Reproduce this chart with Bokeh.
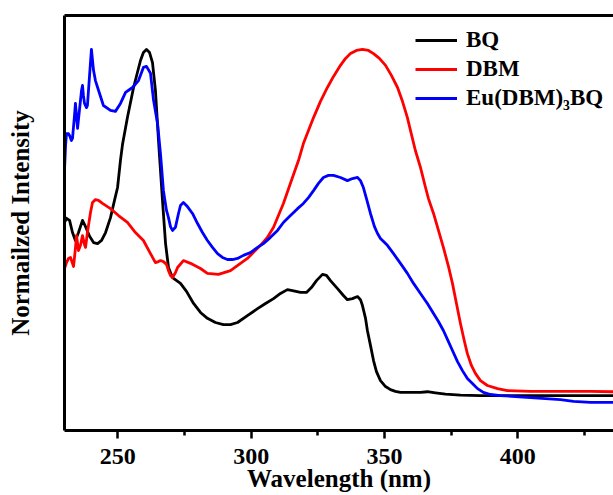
from bokeh.plotting import figure
from bokeh.models import Range1d, LinearAxis, FixedTicker, Legend, LegendItem, ColumnDataSource
from bokeh.embed import file_html
from bokeh.resources import INLINE

# ---------------- data ----------------
bq_nm = [230.0, 230.75, 231.9, 233.0, 234.1, 235.25, 236.75, 237.9, 239.4, 240.9, 242.4, 243.9,
         245.4, 247.25, 248.75, 249.9, 251.0, 251.75, 253.6, 255.9, 258.5, 259.6, 260.75, 261.9,
         263.0, 264.1, 265.25, 266.0, 266.75, 267.9, 269.0, 270.5, 273.5, 275.75, 278.4, 281.0,
         283.6, 286.6, 289.6, 292.25, 294.9, 298.6, 302.4, 305.4, 308.4, 311.0, 313.6, 315.5,
         318.5, 320.75, 322.6, 324.5, 326.75, 328.25, 329.75, 332.4, 334.6, 336.1, 338.0, 339.9,
         341.0, 341.75, 342.9, 343.6, 344.75, 345.9, 347.0, 348.5, 350.4, 352.25, 354.1, 356.0,
         359.75, 363.5, 366.1, 369.1, 372.9, 378.5, 386.0, 401.0, 416.0, 435.9]
bq_int = [0.500, 0.512, 0.506, 0.471, 0.448, 0.471, 0.506, 0.488, 0.460, 0.442, 0.439, 0.448,
          0.471, 0.514, 0.564, 0.601, 0.680, 0.725, 0.803, 0.890, 0.968, 0.991, 1.000, 0.991,
          0.962, 0.882, 0.737, 0.650, 0.564, 0.439, 0.370, 0.341, 0.324, 0.301, 0.266, 0.240,
          0.223, 0.211, 0.205, 0.205, 0.211, 0.231, 0.251, 0.266, 0.280, 0.295, 0.306, 0.303,
          0.298, 0.298, 0.312, 0.332, 0.350, 0.347, 0.332, 0.309, 0.289, 0.277, 0.280, 0.286,
          0.277, 0.260, 0.223, 0.188, 0.145, 0.101, 0.069, 0.043, 0.026, 0.017, 0.012, 0.009,
          0.009, 0.009, 0.011, 0.008, 0.004, 0.001, 0.0, 0.0, 0.0, 0.0]

dbm_nm = [230.0, 230.75, 231.5, 232.25, 233.0, 233.4, 234.1, 234.5, 235.25, 236.0, 236.75, 237.5,
          237.9, 238.6, 239.75, 240.5, 241.6, 242.75, 244.25, 247.25, 250.25, 253.6, 256.6, 259.6,
          262.25, 264.1, 265.25, 266.0, 267.1, 268.25, 269.0, 269.75, 270.5, 271.6, 272.4, 274.6,
          277.25, 281.0, 283.6, 287.75, 292.25, 296.0, 298.6, 303.5, 306.1, 308.4, 312.1, 315.5,
          317.75, 319.6, 323.4, 326.0, 328.6, 330.9, 333.5, 335.4, 337.25, 339.5, 341.75, 344.0,
          345.9, 348.1, 350.4, 352.6, 354.9, 356.75, 358.6, 359.75, 361.6, 363.5, 365.4, 366.5,
          368.4, 370.25, 372.1, 374.0, 375.5, 377.0, 378.5, 380.0, 381.1, 382.6, 384.1, 386.0,
          388.6, 392.4, 396.1, 404.75, 416.0, 427.25, 435.9]
dbm_int = [0.367, 0.384, 0.396, 0.399, 0.382, 0.373, 0.425, 0.462, 0.419, 0.434, 0.462, 0.436,
           0.428, 0.471, 0.529, 0.558, 0.566, 0.564, 0.555, 0.540, 0.520, 0.500, 0.471, 0.448,
           0.410, 0.384, 0.387, 0.390, 0.387, 0.379, 0.361, 0.347, 0.341, 0.355, 0.370, 0.390,
           0.382, 0.367, 0.353, 0.350, 0.361, 0.382, 0.396, 0.434, 0.457, 0.486, 0.555, 0.630,
           0.679, 0.728, 0.803, 0.850, 0.890, 0.922, 0.954, 0.974, 0.988, 0.997, 1.000, 0.997,
           0.988, 0.974, 0.954, 0.925, 0.890, 0.850, 0.803, 0.766, 0.708, 0.659, 0.601, 0.569,
           0.526, 0.477, 0.428, 0.373, 0.324, 0.266, 0.208, 0.156, 0.121, 0.087, 0.064, 0.043,
           0.029, 0.020, 0.014, 0.012, 0.012, 0.012, 0.011]

eu_nm = [230.0, 230.4, 230.75, 231.5, 231.9, 232.6, 233.0, 233.75, 234.1, 234.5, 234.9, 235.6,
         236.4, 236.75, 237.1, 237.5, 238.25, 238.6, 239.4, 240.1, 240.9, 241.6, 242.75, 244.6,
         247.25, 249.1, 251.0, 252.9, 255.5, 257.75, 259.6, 260.75, 262.25, 263.4, 264.9, 266.0,
         267.1, 268.25, 269.0, 269.75, 270.5, 271.6, 272.75, 273.5, 274.6, 276.1, 278.0, 279.9,
         281.75, 283.6, 285.5, 287.4, 289.25, 291.1, 293.0, 294.9, 297.1, 299.75, 302.4, 304.6,
         307.25, 309.9, 312.1, 314.75, 317.4, 319.6, 321.5, 323.4, 325.25, 327.1, 329.0, 330.9,
         333.5, 336.1, 338.0, 339.9, 341.0, 342.1, 343.25, 344.75, 346.25, 347.4, 348.5, 351.1,
         353.4, 356.0, 358.6, 360.9, 363.5, 366.1, 368.4, 370.25, 372.1, 374.0, 375.5, 377.4,
         379.25, 381.1, 383.0, 384.9, 387.1, 389.75, 393.5, 399.1, 404.75, 410.4, 416.0, 420.9,
         427.25, 435.9]
eu_int = [0.650, 0.723, 0.757, 0.757, 0.751, 0.737, 0.743, 0.809, 0.844, 0.809, 0.772, 0.824,
          0.882, 0.896, 0.867, 0.844, 0.832, 0.838, 0.925, 1.000, 0.939, 0.910, 0.882, 0.838,
          0.824, 0.821, 0.844, 0.876, 0.890, 0.910, 0.948, 0.951, 0.931, 0.853, 0.786, 0.699,
          0.592, 0.535, 0.514, 0.488, 0.477, 0.486, 0.526, 0.549, 0.558, 0.546, 0.526, 0.497,
          0.471, 0.448, 0.428, 0.410, 0.399, 0.393, 0.393, 0.396, 0.405, 0.413, 0.428, 0.439,
          0.457, 0.477, 0.500, 0.520, 0.540, 0.555, 0.572, 0.592, 0.613, 0.630, 0.636, 0.636,
          0.630, 0.621, 0.627, 0.630, 0.621, 0.601, 0.569, 0.526, 0.488, 0.468, 0.454, 0.434,
          0.410, 0.382, 0.353, 0.324, 0.295, 0.266, 0.237, 0.214, 0.188, 0.156, 0.130, 0.098,
          0.072, 0.049, 0.035, 0.020, 0.009, 0.003, 0.000, -0.003, -0.006, -0.009, -0.012, -0.017,
          -0.020, -0.020]

series_names = ["BQ", "DBM", "Eu(DBM)\u2083BQ"]
series_colors = ["#000000", "#ff0000", "#0000ff"]

x_ticks = [250, 300, 350, 400]
x_minor = [275, 325, 375, 425]

FONT = "Liberation Serif"

# ---------------- figure ----------------
p = figure(width=613, height=495, output_backend="svg", toolbar_location=None,
           x_range=Range1d(230, 435.9), y_range=Range1d(-0.101, 1.098),
           min_border_left=64, min_border_right=0, min_border_top=15, min_border_bottom=65)
p.outline_line_color = None
p.xgrid.visible = False
p.ygrid.visible = False
p.background_fill_color = "white"
p.border_fill_color = "white"

xa = p.xaxis[0]
xa.ticker = FixedTicker(ticks=x_ticks, minor_ticks=x_minor)
xa.axis_line_width = 3
xa.major_tick_out = 8
xa.major_tick_in = 0
xa.minor_tick_out = 5
xa.minor_tick_in = 0
xa.major_tick_line_width = 2.5
xa.minor_tick_line_width = 2.5
xa.major_label_text_font = FONT
xa.major_label_text_font_style = "bold"
xa.major_label_text_font_size = "24px"
xa.major_label_text_color = "black"
xa.major_label_standoff = 10
xa.axis_label = "Wavelength (nm)"
xa.axis_label_text_font = FONT
xa.axis_label_text_font_style = "bold"
xa.axis_label_text_font_size = "25px"
xa.axis_label_text_color = "black"
xa.axis_label_standoff = -2

ya = p.yaxis[0]
ya.ticker = FixedTicker(ticks=[])
ya.axis_line_width = 3
ya.major_tick_out = 0
ya.major_tick_in = 0
ya.minor_tick_out = 0
ya.minor_tick_in = 0
ya.major_label_text_font_size = "0px"
ya.axis_label = "Normailzed Intensity"
ya.axis_label_text_font = FONT
ya.axis_label_text_font_style = "bold"
ya.axis_label_text_font_size = "25px"
ya.axis_label_text_color = "black"
ya.axis_label_standoff = 31

top = LinearAxis(ticker=FixedTicker(ticks=[]), axis_line_width=3,
                 major_tick_out=0, major_tick_in=0, minor_tick_out=0, minor_tick_in=0,
                 major_label_text_font_size="0px")
p.add_layout(top, "above")

renderers = []
for nm, it, col in [(bq_nm, bq_int, series_colors[0]),
                    (dbm_nm, dbm_int, series_colors[1]),
                    (eu_nm, eu_int, series_colors[2])]:
    src = ColumnDataSource(dict(x=nm, y=it))
    r = p.line("x", "y", source=src, line_color=col, line_width=2.8, line_join="round")
    renderers.append(r)

legend = Legend(items=[LegendItem(label=n, renderers=[r]) for n, r in zip(series_names, renderers)],
                location=(351, 319), glyph_width=42, glyph_height=20, label_standoff=9,
                label_text_font=FONT, label_text_font_style="bold", label_text_font_size="23px",
                label_text_color="black", spacing=3, padding=0, margin=0,
                border_line_color=None, background_fill_alpha=0)
p.add_layout(legend)

open("out.html", "w").write(file_html(p, INLINE))
